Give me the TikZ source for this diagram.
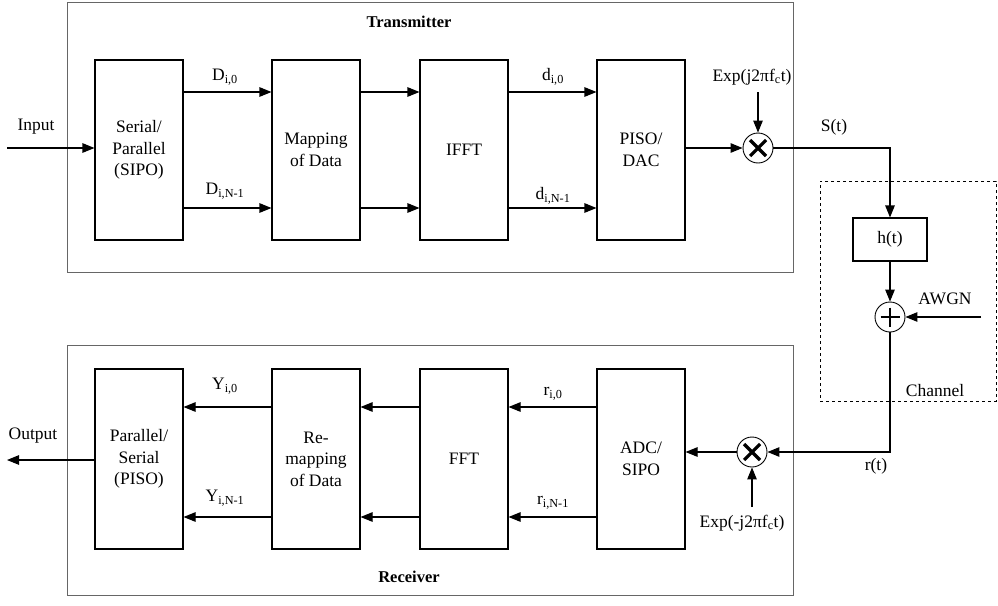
\documentclass[tikz,border=0pt]{standalone}
\usepackage{fontspec}
\setmainfont{Liberation Serif}
\usetikzlibrary{arrows.meta,calc}
\begin{document}
\begin{tikzpicture}[x=1pt,y=-1pt,
  every node/.style={font=\fontsize{17.5}{21.5}\selectfont, inner sep=0pt},
  blk/.style={draw, line width=1.1pt, minimum width=88pt, minimum height=180pt, align=center},
  outer/.style={draw=black!60, line width=0.8pt},
  arr/.style={line width=1.1pt, -{Triangle[length=12pt,width=9.5pt]}},
  junc/.style={circle, draw, line width=0.9pt, minimum size=30pt},
  lbl/.style={font=\fontsize{17.5}{20}\selectfont},
  ttl/.style={font=\bfseries\fontsize{16.5}{20}\selectfont}]
\useasboundingbox (0,0) rectangle (998,605);
% outer boxes
\node[outer, minimum width=726pt, minimum height=270pt] (tx) at (430,137) {};
\node[outer, minimum width=726pt, minimum height=250pt] (rx) at (430,470) {};
\node[draw, dashed, line width=0.7pt, minimum width=176pt, minimum height=220pt] (ch) at (908,291) {};
\node[ttl] (txt) at (409,22) {Transmitter};
\node[ttl] (rxt) at (409,577) {Receiver};
\node[lbl] (cht) at (935,391) {Channel};
% transmitter blocks
\node[blk] (sipo) at (139,150) {Serial/\\Parallel\\(SIPO)};
\node[blk] (map) at (316,150) {Mapping\\of Data};
\node[blk] (ifft) at (464,150) {IFFT};
\node[blk] (piso) at (641,150) {PISO/\\DAC};
% receiver blocks
\node[blk] (ps) at (139,459) {Parallel/\\Serial\\(PISO)};
\node[blk] (remap) at (316,459) {Re-\\mapping\\of Data};
\node[blk] (fft) at (464,459) {FFT};
\node[blk] (adc) at (641,459) {ADC/\\SIPO};
% channel
\node[draw, line width=1.1pt, minimum width=74pt, minimum height=43pt] (ht) at (890,239.5) {h(t)};
\node[junc] (pl) at (890,317) {};
\draw[line width=2.6pt] (pl) ++(-9.5,0) -- ++(19,0) (pl) ++(0,-9.5) -- ++(0,19);
% multipliers
\node[junc] (mt) at (758,148) {};
\draw[line width=3.2pt] (mt) ++(-8,-8) -- ++(16,16) (mt) ++(8,-8) -- ++(-16,16);
\node[junc] (mr) at (752,452) {};
\draw[line width=3.2pt] (mr) ++(-8,-8) -- ++(16,16) (mr) ++(8,-8) -- ++(-16,16);
% coordinates
\coordinate (in) at (7,148);
\coordinate (out) at (7,460);
\coordinate (et) at (758,92);
\coordinate (er) at (752,507);
\coordinate (aw) at (981,317);
% tx arrows
\draw[arr] (in) -- (in -| sipo.west);
\draw[arr] ([yshift=58pt]sipo.east) -- ([yshift=58pt]map.west);
\draw[arr] ([yshift=-58pt]sipo.east) -- ([yshift=-58pt]map.west);
\draw[arr] ([yshift=58pt]map.east) -- ([yshift=58pt]ifft.west);
\draw[arr] ([yshift=-58pt]map.east) -- ([yshift=-58pt]ifft.west);
\draw[arr] ([yshift=58pt]ifft.east) -- ([yshift=58pt]piso.west);
\draw[arr] ([yshift=-58pt]ifft.east) -- ([yshift=-58pt]piso.west);
\draw[arr] (mt -| piso.east) -- (mt.west);
\draw[arr] (et) -- (mt.north);
\draw[arr] (mt.east) -| (ht.north);
\draw[arr] (ht.south) -- (pl.north);
\draw[arr] (aw) -- (pl.east);
\draw[arr] (pl.south) |- (mr.east);
\draw[arr] (er) -- (mr.south);
\draw[arr] (mr.west) -- (mr -| adc.east);
% rx arrows
\draw[arr] ([yshift=52pt]adc.west) -- ([yshift=52pt]fft.east);
\draw[arr] ([yshift=-58pt]adc.west) -- ([yshift=-58pt]fft.east);
\draw[arr] ([yshift=52pt]fft.west) -- ([yshift=52pt]remap.east);
\draw[arr] ([yshift=-58pt]fft.west) -- ([yshift=-58pt]remap.east);
\draw[arr] ([yshift=52pt]remap.west) -- ([yshift=52pt]ps.east);
\draw[arr] ([yshift=-58pt]remap.west) -- ([yshift=-58pt]ps.east);
\draw[arr] (ps.west |- out) -- (out);
% labels
\node[lbl] (linp) at (36,127) {Input};
\node[lbl] (lout) at (33,436) {Output};
\node[lbl] (l1) at (225,77) {D\textsubscript{i,0}};
\node[lbl] (l2) at (225,191) {D\textsubscript{i,N-1}};
\node[lbl] (l3) at (553,77) {d\textsubscript{i,0}};
\node[lbl] (l4) at (553,196) {d\textsubscript{i,N-1}};
\node[lbl] (l5) at (225,386) {Y\textsubscript{i,0}};
\node[lbl] (l6) at (225,498) {Y\textsubscript{i,N-1}};
\node[lbl] (l7) at (553,394) {r\textsubscript{i,0}};
\node[lbl] (l8) at (553,503) {r\textsubscript{i,N-1}};
\node[lbl] (lst) at (834,127) {S(t)};
\node[lbl] (lrt) at (876,466) {r(t)};
\node[lbl] (law) at (945,299) {AWGN};
\node[lbl] (lex) at (752,77) {Exp(j2πf\textsubscript{c}t)};
\node[lbl] (lexr) at (742,523) {Exp(-j2πf\textsubscript{c}t)};
\end{tikzpicture}
\end{document}
